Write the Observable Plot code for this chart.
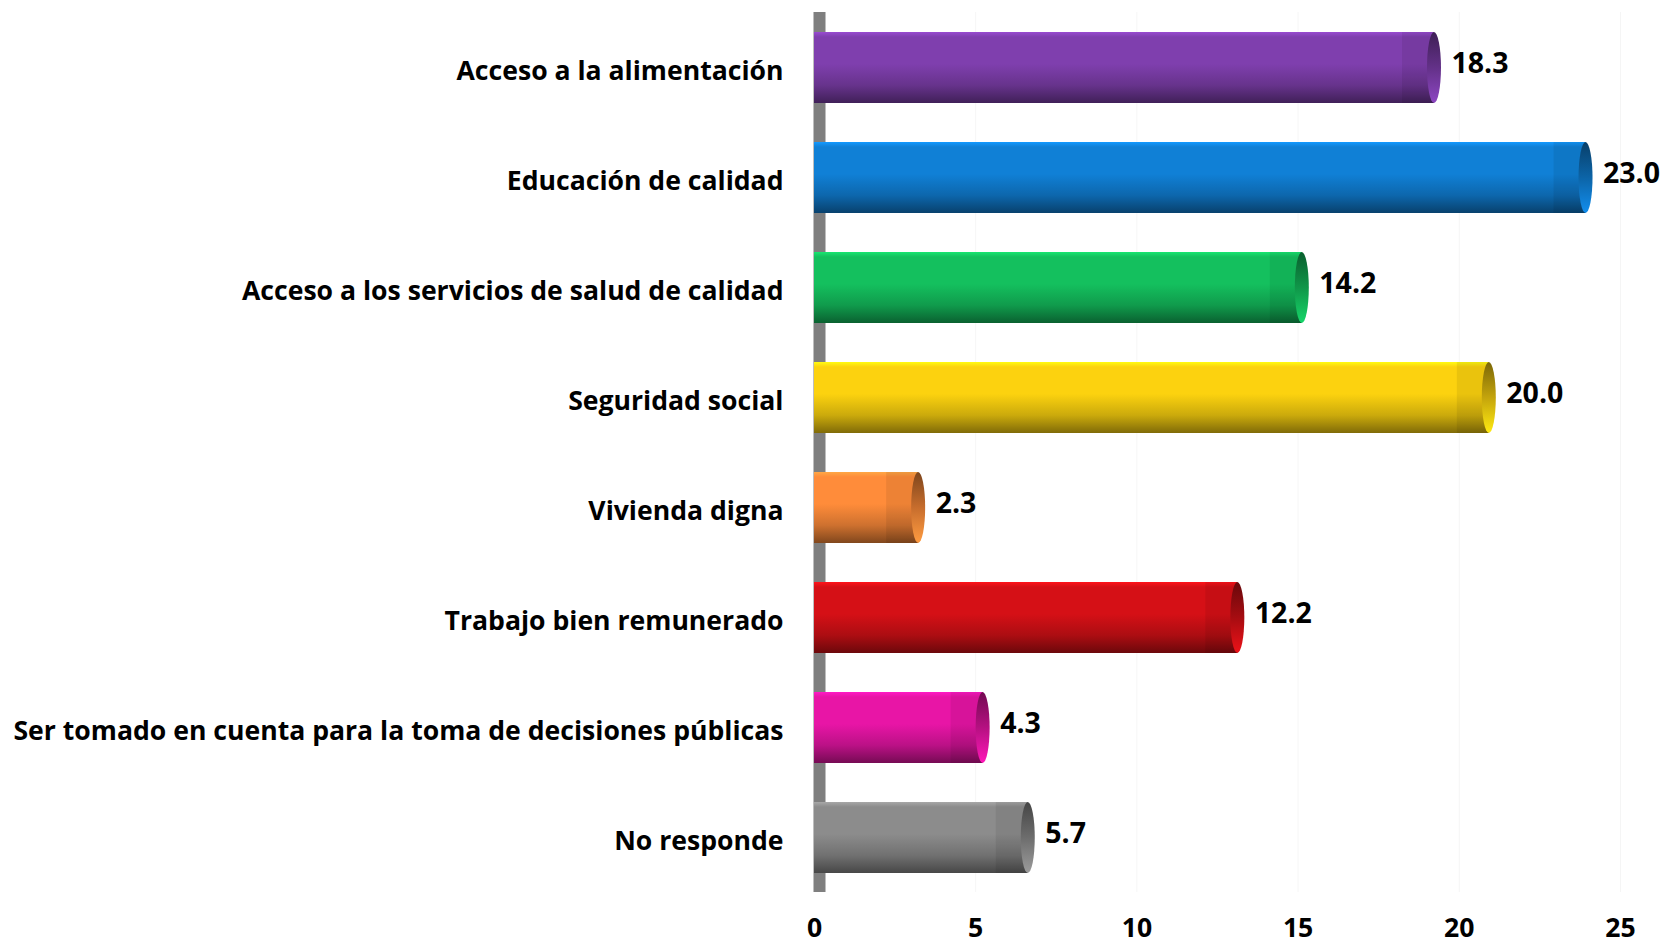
<!DOCTYPE html>
<html>
<head>
<meta charset="utf-8">
<script src="https://cdn.jsdelivr.net/npm/d3@7"></script>
<script src="https://cdn.jsdelivr.net/npm/@observablehq/plot@0.6"></script>
<style>
  html, body { margin: 0; padding: 0; background: #fff; }
  #chart svg { display: block; }
</style>
</head>
<body>
<div id="chart"></div>
<script>
const categories = [
  "Acceso a la alimentación",
  "Educación de calidad",
  "Acceso a los servicios de salud de calidad",
  "Seguridad social",
  "Vivienda digna",
  "Trabajo bien remunerado",
  "Ser tomado en cuenta para la toma de decisiones públicas",
  "No responde"
];
const values = [18.3, 23.0, 14.2, 20.0, 2.3, 12.2, 4.3, 5.7];
const colors = ["#7f3fae", "#1080d6", "#14c05e", "#fcd20f", "#ff8c3a", "#d51016", "#e815a6", "#8c8c8c"];
const xTicks = [0, 5, 10, 15, 20, 25];

const rows = categories.map((c, i) => ({category: c, value: values[i], color: colors[i], i}));

const FONT = "'Open Sans', Lato, sans-serif";

const chart = Plot.plot({
  width: 1663,
  height: 947,
  marginLeft: 814,
  marginRight: 43,
  marginTop: 12,
  marginBottom: 55,
  style: {fontFamily: FONT, fontSize: "26.6px", fontWeight: "bold", color: "#000", background: "#fff"},
  x: {domain: [0, 25], ticks: xTicks, tickSize: 0, tickPadding: 26, label: null, tickFormat: d3.format("d")},
  y: {domain: categories, paddingInner: 0.355, paddingOuter: 0.177, tickSize: 0, tickPadding: 31, label: null},
  color: {type: "identity"},
  marks: [
    Plot.ruleX(xTicks.slice(1), {stroke: "#000", strokeOpacity: 0.04, strokeWidth: 1}),
    Plot.ruleX([0], {stroke: "#7f7f7f", strokeWidth: 12, dx: 5}),
    Plot.barX(rows, {y: "category", x1: 0, x2: "value", insetRight: -30, fill: d => `url(#body${d.i})`}),
    Plot.barX(rows, {y: "category", x1: "value", x2: "value", insetLeft: -2, insetRight: -30, fill: "#000", fillOpacity: 0.07}),
    Plot.barX(rows, {y: "category", x1: "value", x2: "value", insetLeft: 23, insetRight: -37, rx: 7, ry: 40, fill: d => `url(#cap${d.i})`}),
    Plot.text(rows, {y: "category", x: "value", text: d => d.value.toFixed(1), dx: 47, dy: -4, textAnchor: "start", fill: "#000", fontSize: 28.5, fontWeight: "bold"})
  ]
});

const svg = d3.select(chart);
// nudge category labels slightly down, as in the reference
svg.selectAll("g").filter(function() {
  const a = this.getAttribute("aria-label") || "";
  return a === "y-axis" || a === "y-axis tick label";
}).attr("transform", function() {
  return (this.getAttribute("transform") || "") + " translate(0,3)";
});

// cylinder shading gradients
const defs = svg.insert("defs", ":first-child");
colors.forEach((c, i) => {
  const base = d3.color(c);
  const g = defs.append("linearGradient").attr("id", `body${i}`).attr("x1", 0).attr("y1", 0).attr("x2", 0).attr("y2", 1);
  [[0, base.brighter(0.5)], [0.07, base], [0.45, base], [0.75, base.darker(0.6)], [1, base.darker(1.9)]]
    .forEach(([o, col]) => g.append("stop").attr("offset", o).attr("stop-color", col.formatHex()));
  const h = defs.append("linearGradient").attr("id", `cap${i}`).attr("x1", 0).attr("y1", 0).attr("x2", 0).attr("y2", 1);
  [[0, base.darker(2.0)], [0.5, base.darker(0.7)], [1, base.brighter(0.3)]]
    .forEach(([o, col]) => h.append("stop").attr("offset", o).attr("stop-color", col.formatHex()));
});

document.getElementById("chart").appendChild(chart);
</script>
</body>
</html>
